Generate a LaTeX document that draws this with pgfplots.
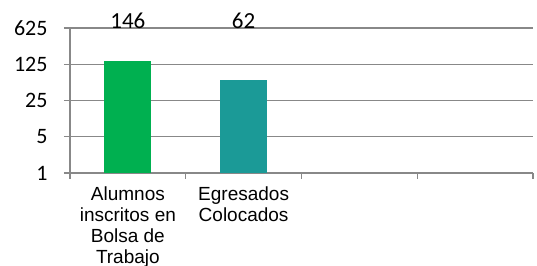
\documentclass[border=0pt]{standalone}
\usepackage{pgfplots}
\pgfplotsset{compat=1.18}
\usepackage{fontspec}
\setmainfont{Liberation Sans}
\newfontfamily\calib{Carlito}
\definecolor{gridgray}{HTML}{888888}
\definecolor{barA}{HTML}{00B050}
\definecolor{barB}{HTML}{1B9A97}
\begin{document}
\begin{tikzpicture}
\begin{axis}[
  scale only axis,
  width=463bp, height=145bp,
  at={(0,0)}, anchor=south west,
  ymode=log, log basis y=5,
  ymin=1, ymax=625,
  xmin=0, xmax=4,
  /pgf/number format/assume math mode=true,
  ytick={1,5,25,125,625},
  yticklabels={1,5,25,125,625},
  yticklabel style={font=\calib\fontsize{22bp}{22bp}\selectfont, anchor=east, xshift=-13bp},
  xtick={0,1,2,3,4},
  xticklabels={},
  extra x ticks={0.5,1.5},
  extra x tick labels={Alumnos\\inscritos en\\Bolsa de\\Trabajo, Egresados\\Colocados},
  extra x tick style={major tick length=0pt, grid=none,
    xticklabel style={align=center, font=\fontsize{19bp}{21bp}\selectfont, anchor=north, yshift=-10bp}},
  ymajorgrids,
  major grid style={gridgray, line width=1.2bp},
  axis x line*=bottom,
  axis y line*=left,
  axis line style={gridgray, line width=1.2bp},
  tick style={gridgray, line width=1.2bp},
  tick align=outside,
  major tick length=6bp,
  minor tick num=0,
  ybar, bar width=47bp, bar shift=0pt,
  clip=false,
]
\addplot[fill=barA, draw=none, bar shift=0pt] coordinates {(0.5,146)};
\addplot[fill=barB, draw=none, bar shift=0pt] coordinates {(1.5,62)};
\addplot[draw=none, mark=none, bar shift=0pt, nodes near coords, point meta=explicit symbolic,
  every node near coord/.append style={anchor=base, yshift=-1bp, font=\calib\fontsize{23bp}{23bp}\selectfont, text=black}]
  coordinates {(0.5,625)[146] (1.5,625)[62]};
\end{axis}
\pgfresetboundingbox
\path[use as bounding box] (-70bp,-93bp) rectangle (467bp,173bp);
\end{tikzpicture}
\end{document}
